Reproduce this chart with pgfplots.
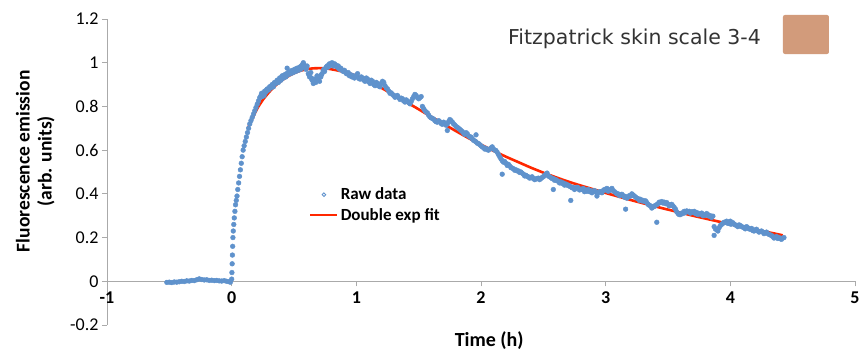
\documentclass[border=0pt]{standalone}
\usepackage{pgfplots}
\pgfplotsset{compat=1.18}
\usepackage{fontspec}
\setmainfont{Carlito}
\newfontfamily\dejavu{DejaVu Sans}
\definecolor{rawblue}{RGB}{95,146,204}
\definecolor{fitred}{RGB}{255,40,0}
\definecolor{skin}{RGB}{210,155,123}
\definecolor{axgray}{RGB}{170,170,170}

\pgfplotstableread{
t v
-0.52 -0.005
-0.50 -0.004
-0.48 -0.006
-0.46 -0.003
-0.44 -0.004
-0.42 -0.002
-0.40 0.000
-0.38 -0.001
-0.36 0.002
-0.34 0.001
-0.32 0.004
-0.30 0.003
-0.28 0.007
-0.26 0.011
-0.24 0.008
-0.22 0.006
-0.20 0.007
-0.18 0.004
-0.16 0.005
-0.14 0.003
-0.12 0.004
-0.10 0.002
-0.08 0.001
-0.06 0.003
-0.04 0.000
-0.02 -0.002
-0.01 -0.004
0.000 0.01
0.002 0.04
0.004 0.08
0.006 0.12
0.008 0.16
0.010 0.20
0.013 0.23
0.017 0.26
0.021 0.29
0.026 0.32
0.031 0.35
0.037 0.37
0.043 0.39
0.049 0.42
0.056 0.45
0.063 0.48
0.070 0.51
0.077 0.54
0.084 0.57
0.092 0.60
0.100 0.62
0.109 0.64
0.118 0.66
0.127 0.68
0.136 0.70
0.145 0.72
0.155 0.735
0.165 0.75
0.175 0.765
0.185 0.78
0.195 0.795
0.205 0.81
0.215 0.825
0.225 0.84
0.235 0.85
0.245 0.845
0.255 0.86
0.265 0.87
0.275 0.865
0.285 0.88
0.295 0.875
0.305 0.89
0.315 0.885
0.325 0.90
0.335 0.89
0.345 0.91
0.355 0.905
0.365 0.92
0.375 0.91
0.385 0.93
0.395 0.92
0.405 0.94
0.415 0.93
0.425 0.945
0.435 0.935
0.445 0.975
0.455 0.945
0.465 0.955
0.475 0.95
0.485 0.965
0.495 0.955
0.505 0.97
0.515 0.96
0.525 0.975
0.535 0.965
0.545 0.98
0.555 0.97
0.565 0.99
0.575 1.00
0.585 0.98
0.595 0.97
0.605 0.985
0.615 0.95
0.625 0.935
0.635 0.955
0.645 0.92
0.655 0.905
0.665 0.925
0.675 0.91
0.685 0.94
0.695 0.925
0.705 0.915
0.715 0.935
0.725 0.95
0.735 0.965
0.745 0.96
0.755 0.975
0.765 0.985
0.775 0.98
0.785 0.995
0.795 0.99
0.805 1.00
0.815 0.985
0.825 0.995
0.835 0.99
0.845 0.98
0.855 0.985
0.865 0.97
0.875 0.975
0.885 0.965
0.895 0.96
0.905 0.965
0.915 0.955
0.925 0.95
0.935 0.955
0.945 0.94
0.955 0.945
0.965 0.935
0.975 0.94
0.985 0.93
0.24 0.86
0.26 0.85
0.28 0.875
0.30 0.88
0.32 0.895
0.34 0.905
0.36 0.91
0.38 0.92
0.40 0.925
0.42 0.94
0.44 0.95
0.46 0.96
0.48 0.955
0.50 0.965
0.52 0.97
0.54 0.975
0.56 0.985
0.58 0.99
0.60 0.975
0.62 0.945
0.64 0.93
0.66 0.915
0.68 0.925
0.70 0.93
0.72 0.945
0.74 0.97
0.76 0.98
0.78 0.99
0.80 0.995
0.82 0.99
0.84 0.985
0.86 0.975
0.88 0.97
0.90 0.962
0.92 0.95
0.94 0.945
0.96 0.94
0.98 0.935
1.00 0.942
1.02 0.928
1.04 0.935
1.06 0.92
1.08 0.93
1.10 0.912
1.12 0.92
1.14 0.90
1.16 0.91
1.18 0.893
1.20 0.905
1.22 0.91
1.24 0.885
1.26 0.87
1.28 0.862
1.30 0.85
1.32 0.848
1.34 0.84
1.36 0.838
1.38 0.825
1.40 0.83
1.42 0.818
1.44 0.822
1.46 0.845
1.48 0.85
1.50 0.835
1.52 0.845
1.54 0.79
1.56 0.775
1.58 0.76
1.60 0.748
1.62 0.742
1.64 0.73
1.66 0.735
1.68 0.722
1.70 0.728
1.72 0.714
1.74 0.73
1.76 0.735
1.78 0.72
1.80 0.708
1.82 0.70
1.84 0.69
1.86 0.678
1.88 0.68
1.90 0.665
1.92 0.66
1.94 0.645
1.96 0.638
1.98 0.63
2.00 0.62
2.02 0.612
2.04 0.608
2.06 0.60
2.08 0.61
2.10 0.605
2.12 0.598
2.14 0.58
2.16 0.56
2.18 0.545
2.20 0.54
2.22 0.535
2.24 0.52
2.26 0.515
2.28 0.51
2.30 0.505
2.32 0.50
2.34 0.49
2.36 0.485
2.38 0.478
2.40 0.475
2.42 0.47
2.44 0.468
2.46 0.472
2.48 0.47
2.50 0.478
2.52 0.49
2.54 0.482
2.56 0.475
2.58 0.47
2.60 0.465
2.62 0.458
2.64 0.455
2.66 0.45
2.68 0.445
2.70 0.44
2.72 0.432
2.74 0.43
2.76 0.425
2.78 0.428
2.80 0.42
2.82 0.425
2.84 0.418
2.86 0.42
2.88 0.415
2.90 0.412
2.92 0.41
2.94 0.405
2.96 0.41
2.98 0.415
3.00 0.418
3.02 0.412
3.04 0.42
3.06 0.415
3.08 0.405
3.10 0.40
3.12 0.395
3.14 0.392
3.16 0.388
3.18 0.385
3.20 0.39
3.22 0.395
3.24 0.385
3.26 0.378
3.28 0.375
3.30 0.37
3.32 0.368
3.34 0.352
3.36 0.345
3.38 0.34
3.40 0.348
3.42 0.355
3.44 0.36
3.46 0.358
3.48 0.355
3.50 0.352
3.52 0.35
3.54 0.345
3.56 0.33
3.58 0.31
3.60 0.305
3.62 0.31
3.64 0.315
3.66 0.318
3.68 0.312
3.70 0.315
3.72 0.31
3.74 0.305
3.76 0.308
3.78 0.30
3.80 0.302
3.82 0.305
3.84 0.30
3.86 0.298
3.88 0.24
3.90 0.23
3.92 0.255
3.94 0.265
3.96 0.27
3.98 0.265
4.00 0.262
4.02 0.268
4.04 0.258
4.06 0.25
4.08 0.255
4.10 0.248
4.12 0.24
4.14 0.245
4.16 0.238
4.18 0.232
4.20 0.235
4.22 0.23
4.24 0.228
4.26 0.225
4.28 0.222
4.30 0.218
4.32 0.212
4.34 0.205
4.36 0.20
4.38 0.196
4.40 0.195
4.42 0.198
4.43 0.20
1.01 0.95
1.03 0.925
1.05 0.93
1.07 0.915
1.09 0.925
1.11 0.905
1.13 0.915
1.15 0.895
1.17 0.905
1.19 0.89
1.21 0.915
1.23 0.895
1.25 0.88
1.27 0.86
1.29 0.855
1.31 0.842
1.33 0.85
1.35 0.832
1.37 0.835
1.39 0.82
1.41 0.825
1.43 0.812
1.45 0.835
1.47 0.855
1.49 0.84
1.51 0.84
1.53 0.80
1.55 0.78
1.57 0.77
1.59 0.752
1.61 0.745
1.63 0.735
1.65 0.728
1.67 0.73
1.69 0.718
1.71 0.722
1.73 0.72
1.75 0.74
1.77 0.728
1.79 0.715
1.81 0.705
1.83 0.695
1.85 0.685
1.87 0.672
1.89 0.675
1.91 0.66
1.93 0.652
1.95 0.642
1.97 0.632
1.99 0.625
2.01 0.615
2.03 0.605
2.05 0.602
2.07 0.605
2.09 0.615
2.11 0.60
2.13 0.59
2.15 0.57
2.17 0.552
2.19 0.548
2.21 0.53
2.23 0.528
2.25 0.518
2.27 0.508
2.29 0.505
2.31 0.498
2.33 0.495
2.35 0.482
2.37 0.48
2.39 0.472
2.41 0.478
2.43 0.465
2.45 0.47
2.47 0.465
2.49 0.475
2.51 0.485
2.53 0.495
2.55 0.478
2.57 0.47
2.59 0.462
2.61 0.46
2.63 0.45
2.65 0.448
2.67 0.44
2.69 0.44
2.71 0.435
2.73 0.428
2.75 0.42
2.77 0.43
2.79 0.418
2.81 0.42
2.83 0.41
2.85 0.412
2.87 0.41
2.89 0.405
2.91 0.415
2.93 0.402
2.95 0.41
2.97 0.405
2.99 0.42
3.01 0.425
3.03 0.415
3.05 0.425
3.07 0.41
3.09 0.40
3.11 0.392
3.13 0.398
3.15 0.385
3.17 0.38
3.19 0.392
3.21 0.40
3.23 0.39
3.25 0.38
3.27 0.37
3.29 0.368
3.31 0.365
3.33 0.36
3.35 0.348
3.37 0.335
3.39 0.342
3.41 0.35
3.43 0.362
3.45 0.365
3.47 0.362
3.49 0.36
3.51 0.345
3.53 0.352
3.55 0.338
3.57 0.318
3.59 0.305
3.61 0.312
3.63 0.32
3.65 0.322
3.67 0.32
3.69 0.318
3.71 0.32
3.73 0.315
3.75 0.31
3.77 0.312
3.79 0.305
3.81 0.31
3.83 0.298
3.85 0.292
3.87 0.25
3.89 0.235
3.91 0.245
3.93 0.26
3.95 0.27
3.97 0.275
3.99 0.27
4.01 0.262
4.03 0.262
4.05 0.255
4.07 0.258
4.09 0.25
4.11 0.245
4.13 0.25
4.15 0.24
4.17 0.242
4.19 0.23
4.21 0.238
4.23 0.225
4.25 0.23
4.27 0.218
4.29 0.225
4.31 0.215
4.33 0.21
4.35 0.198
4.37 0.205
4.39 0.20
4.41 0.192
1.73 0.69
1.96 0.67
2.17 0.49
2.58 0.42
2.72 0.37
2.93 0.39
3.16 0.33
3.41 0.27
3.87 0.21
4.00 0.275
}\rawdata

\pgfplotstableread{
t v
0.13 0.70
0.15 0.725
0.20 0.785
0.25 0.83
0.30 0.865
0.35 0.895
0.40 0.918
0.45 0.937
0.50 0.952
0.55 0.963
0.60 0.970
0.65 0.974
0.70 0.975
0.75 0.974
0.80 0.970
0.90 0.958
1.00 0.940
1.10 0.915
1.20 0.885
1.30 0.853
1.40 0.820
1.50 0.787
1.60 0.753
1.70 0.720
1.80 0.687
1.90 0.655
2.00 0.625
2.10 0.597
2.20 0.570
2.30 0.545
2.40 0.520
2.50 0.497
2.60 0.476
2.70 0.456
2.80 0.438
2.90 0.421
3.00 0.404
3.10 0.388
3.20 0.372
3.30 0.357
3.40 0.342
3.50 0.328
3.60 0.314
3.70 0.300
3.80 0.287
3.90 0.274
4.00 0.261
4.10 0.249
4.20 0.237
4.30 0.225
4.40 0.213
4.42 0.210
}\fitdata

\begin{document}
\begin{tikzpicture}
\begin{axis}[
  scale only axis, width=748pt, height=306pt,
  xmin=-1, xmax=5, ymin=-0.2, ymax=1.2,
  axis x line=middle, axis y line=left,
  axis line style={draw=axgray, line width=0.8pt, -},
  xtick={-1,0,1,2,3,4,5},
  xticklabels={-1,0,1,2,3,4,5},
  ytick={-0.2,0,0.2,0.4,0.6,0.8,1,1.2},
  yticklabels={-0.2,0,0.2,0.4,0.6,0.8,1,1.2},
  hide obscured x ticks=false, hide obscured y ticks=false,
  tick align=outside, major tick length=5pt,
  tick style={draw=axgray, line width=0.8pt},
  x tick label style={font=\fontsize{18}{20}\selectfont\bfseries, yshift=-2pt},
  y tick label style={font=\fontsize{18}{20}\selectfont},
  /pgf/number format/assume math mode=true,
  every axis x label/.style={at={(axis description cs:0.511,-0.05)}, anchor=center, font=\fontsize{20}{22}\selectfont\bfseries},
  every axis y label/.style={at={(axis description cs:-0.096,0.535)}, rotate=90, anchor=center, align=center, font=\fontsize{19.5}{22}\selectfont\bfseries},
  xlabel={Time (h)},
  ylabel={Fluorescence emission\\(arb. units)},
  clip=false,
  legend style={at={(axis description cs:0.27,0.455)}, anchor=north west, draw=none, fill=none,
    font=\fontsize{17}{19}\selectfont\bfseries, row sep=3pt, inner sep=0pt,
    cells={anchor=west}},
  legend image code/.code={\draw[mark repeat=2,mark phase=2,#1] plot coordinates {(0pt,0pt) (13.5pt,0pt) (27pt,0pt)};},
  reverse legend,
]
\addplot[fitred, line width=2.6pt, smooth] table[x=t,y=v] {\fitdata};
\addlegendentry{Double exp fit}
\addplot[only marks, mark=*, mark size=2.4pt, rawblue, mark options={draw=rawblue, fill=rawblue},
  legend image code/.code={\draw[rawblue, line width=0.9pt] (13.5pt,0pt) circle (1.8pt);}] table[x=t,y=v] {\rawdata};
\addlegendentry{Raw data}

\node[anchor=base west, inner sep=0pt, font=\dejavu\fontsize{20.5}{24}\selectfont, text=black!80] at (axis description cs:0.536,0.918) {Fitzpatrick skin scale 3-4};
\fill[skin, rounded corners=2pt] (axis description cs:0.9037,0.8856) rectangle (axis description cs:0.9652,1.0131);
\coordinate (bbsw) at (axis description cs:0,0);
\coordinate (bbne) at (axis description cs:1,1);
\end{axis}
\pgfresetboundingbox
\path[use as bounding box] ([xshift=-107pt,yshift=-26pt]bbsw) rectangle ([xshift=6pt,yshift=19pt]bbne);
\end{tikzpicture}
\end{document}
